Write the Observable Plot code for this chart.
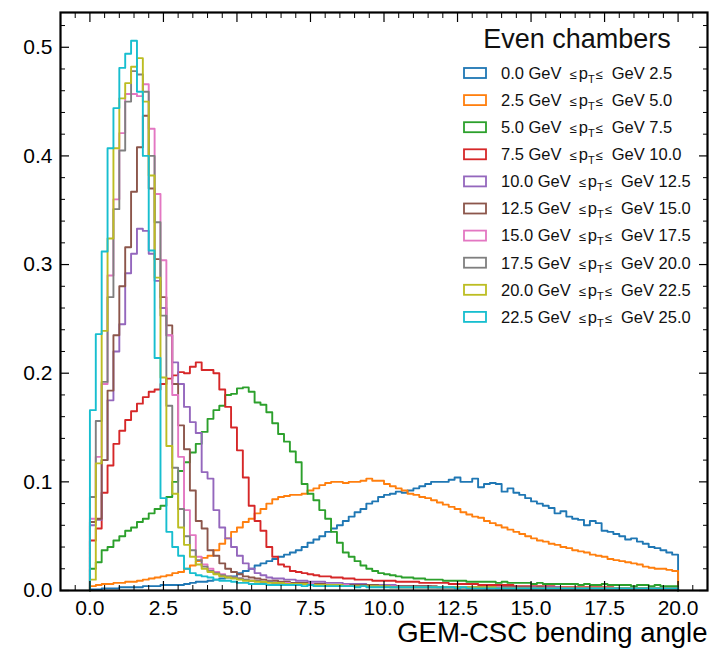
<!DOCTYPE html>
<html><head><meta charset="utf-8">
<script src="https://cdn.jsdelivr.net/npm/d3@7"></script>
<script src="https://cdn.jsdelivr.net/npm/@observablehq/plot@0.6"></script>
<style>
body{margin:0;background:#fff;}
#wrap{position:relative;width:712px;height:648px;}
</style></head><body><div id="wrap"></div>
<script>
// ---------- data (normalised histogram heights, 100 bins of width 0.2 from 0 to 20) ----------
const binWidth = 0.2;
const nBins = 100;
const xMax = 20;

const ptLow  = ["0.0","2.5","5.0","7.5","10.0","12.5","15.0","17.5","20.0","22.5"];
const ptHigh = ["2.5","5.0","7.5","10.0","12.5","15.0","17.5","20.0","22.5","25.0"];
const colors = ["#1f77b4","#ff7f0e","#2ca02c","#d62728","#9467bd","#8c564b","#e377c2","#7f7f7f","#bcbd22","#17becf"];

const h0_25 = [0.001,0.001,0.002,0.002,0.002,0.003,0.003,0.003,0.003,0.004,0.004,0.004,0.005,0.005,0.005,
0.005,0.006,0.007,0.008,0.008,0.009,0.010,0.011,0.012,0.013,
0.016,0.018,0.020,0.023,0.025,0.027,0.029,0.031,0.033,0.035,
0.037,0.040,0.044,0.047,0.050,0.054,0.057,0.060,0.064,0.068,
0.072,0.075,0.080,0.082,0.086,0.088,0.089,0.091,0.090,0.092,
0.094,0.096,0.098,0.100,0.100,0.100,0.102,0.104,0.100,0.100,
0.103,0.095,0.098,0.099,0.098,0.091,0.094,0.090,0.088,0.085,
0.082,0.080,0.078,0.076,0.071,0.073,0.068,0.066,0.065,0.060,
0.064,0.062,0.055,0.054,0.052,0.050,0.047,0.048,0.045,0.043,
0.040,0.039,0.037,0.035,0.033];

const h25_50 = [0.004,0.005,0.006,0.006,0.007,0.007,0.008,0.008,0.009,0.010,0.011,0.012,0.013,0.014,0.016,
0.017,0.020,0.023,0.027,0.030,0.032,0.037,0.043,0.048,0.054,
0.058,0.063,0.066,0.071,0.075,0.080,0.084,0.086,0.087,0.088,
0.088,0.089,0.092,0.094,0.097,0.099,0.100,0.100,0.099,0.100,
0.100,0.101,0.103,0.101,0.101,0.098,0.096,0.094,0.092,0.089,
0.088,0.086,0.085,0.083,0.081,0.079,0.077,0.075,0.072,0.070,
0.068,0.067,0.064,0.062,0.060,0.058,0.056,0.054,0.052,0.050,
0.048,0.046,0.045,0.043,0.042,0.040,0.039,0.037,0.036,0.035,
0.033,0.032,0.031,0.029,0.028,0.027,0.026,0.025,0.024,0.022,
0.021,0.020,0.020,0.019,0.018];

const h50_75 = [0.020,0.026,0.037,0.040,0.046,0.050,0.055,0.058,0.063,0.066,
0.071,0.075,0.078,0.086,0.100,0.110,0.118,0.127,0.135,0.146,
0.158,0.166,0.170,0.180,0.181,0.186,0.187,0.183,0.173,0.171,
0.164,0.154,0.144,0.137,0.128,0.118,0.098,0.089,0.083,0.074,
0.066,0.054,0.044,0.035,0.031,0.027,0.023,0.020,0.018,0.016,
0.015,0.014,0.013,0.012,0.012,0.011,0.011,0.010,0.010,0.010,
0.009,0.009,0.009,0.009,0.008,0.008,0.008,0.008,0.008,0.007,
0.008,0.007,0.007,0.007,0.007,0.006,0.007,0.006,0.006,0.006,
0.006,0.006,0.006,0.005,0.006,0.005,0.005,0.006,0.005,0.005,
0.005,0.005,0.004,0.005,0.005,0.004,0.005,0.004,0.004,0.004];

const h75_100 = [0.046,0.057,0.090,0.115,0.135,0.147,0.157,0.165,0.172,0.178,
0.183,0.185,0.190,0.195,0.198,0.201,0.200,0.206,0.210,0.203,
0.203,0.200,0.185,0.169,0.150,0.129,0.104,0.078,0.064,0.055,
0.040,0.031,0.024,0.022,0.018,0.017,0.016,0.015,0.014,0.013,
0.013,0.012,0.012,0.011,0.011,0.010,0.010,0.010,0.009,0.009,
0.009,0.009,0.008,0.008,0.008,0.008,0.007,0.007,0.007,0.007,
0.007,0.006,0.006,0.006,0.006,0.006,0.005,0.005,0.005,0.005,
0.005,0.005,0.004,0.004,0.004,0.004,0.004,0.004,0.004,0.003,
0.003,0.003,0.003,0.003,0.003,0.003,0.003,0.003,0.003,0.002,
0.002,0.002,0.002,0.002,0.002,0.002,0.002,0.002,0.002,0.002];

const h100_125 = [0.060,0.065,0.120,0.175,0.220,0.245,0.292,0.310,0.333,0.331,
0.310,0.285,0.260,0.235,0.210,0.190,0.169,0.155,0.145,0.109,
0.103,0.074,0.058,0.048,0.040,0.032,0.025,0.020,0.016,0.014,
0.012,0.011,0.011,0.010,0.010,0.009,0.009,0.008,0.008,0.008,
0.007,0.007,0.007,0.006,0.006,0.006,0.006,0.005,0.005,0.005,
0.005,0.005,0.004,0.004,0.004,0.004,0.004,0.004,0.003,0.003,
0.003,0.003,0.003,0.003,0.003,0.003,0.003,0.003,0.003,0.003,
0.003,0.003,0.003,0.003,0.003,0.003,0.003,0.003,0.003,0.003,
0.002,0.002,0.002,0.002,0.002,0.002,0.002,0.002,0.002,0.002,
0.002,0.002,0.002,0.002,0.002,0.002,0.002,0.002,0.002,0.002];

const h125_150 = [0.063,0.066,0.120,0.184,0.235,0.280,0.316,0.367,0.408,0.437,
0.370,0.305,0.270,0.244,0.190,0.152,0.130,0.092,0.064,0.057,
0.037,0.032,0.025,0.020,0.017,0.015,0.013,0.012,0.011,0.010,
0.009,0.009,0.008,0.008,0.007,0.007,0.007,0.006,0.006,0.006,
0.005,0.005,0.005,0.005,0.005,0.005,0.005,0.005,0.005,0.004,
0.004,0.004,0.004,0.004,0.004,0.004,0.004,0.004,0.004,0.003,
0.003,0.003,0.003,0.003,0.003,0.003,0.003,0.003,0.003,0.003,
0.003,0.003,0.003,0.003,0.003,0.002,0.003,0.002,0.002,0.002,
0.002,0.002,0.002,0.002,0.002,0.002,0.002,0.002,0.002,0.002,
0.002,0.002,0.002,0.002,0.002,0.002,0.002,0.002,0.002,0.002];

const h150_175 = [0.066,0.123,0.190,0.290,0.360,0.421,0.457,0.457,0.455,0.466,
0.425,0.365,0.304,0.235,0.180,0.123,0.074,0.051,0.031,0.024,
0.020,0.017,0.015,0.013,0.012,0.011,0.010,0.009,0.009,0.008,
0.008,0.007,0.007,0.007,0.006,0.006,0.006,0.006,0.005,0.005,
0.005,0.005,0.005,0.005,0.004,0.004,0.004,0.004,0.004,0.004,
0.004,0.004,0.003,0.003,0.003,0.003,0.003,0.003,0.003,0.003,
0.003,0.003,0.003,0.003,0.003,0.003,0.003,0.003,0.002,0.003,
0.002,0.002,0.002,0.002,0.002,0.002,0.002,0.002,0.002,0.002,
0.002,0.002,0.002,0.002,0.002,0.002,0.002,0.002,0.002,0.002,
0.002,0.002,0.002,0.002,0.002,0.002,0.002,0.002,0.002,0.002];

const h175_200 = [0.086,0.156,0.192,0.270,0.351,0.405,0.450,0.478,0.475,0.459,
0.400,0.339,0.253,0.170,0.113,0.075,0.050,0.037,0.028,0.022,
0.018,0.016,0.014,0.013,0.012,0.011,0.010,0.009,0.009,0.008,
0.008,0.007,0.007,0.006,0.006,0.006,0.006,0.005,0.005,0.005,
0.005,0.005,0.004,0.004,0.004,0.004,0.004,0.004,0.004,0.004,
0.004,0.003,0.003,0.003,0.003,0.003,0.003,0.003,0.003,0.003,
0.003,0.003,0.003,0.003,0.003,0.003,0.003,0.002,0.003,0.002,
0.002,0.002,0.002,0.002,0.002,0.002,0.002,0.002,0.002,0.002,
0.002,0.002,0.002,0.002,0.002,0.002,0.002,0.002,0.002,0.002,
0.002,0.002,0.002,0.002,0.002,0.002,0.002,0.002,0.002,0.002];

const h200_225 = [0.010,0.117,0.239,0.324,0.407,0.453,0.467,0.482,0.490,0.450,
0.382,0.288,0.196,0.133,0.089,0.058,0.042,0.031,0.024,0.020,
0.017,0.015,0.013,0.012,0.011,0.010,0.009,0.009,0.008,0.008,
0.007,0.007,0.007,0.006,0.006,0.006,0.006,0.005,0.005,0.005,
0.005,0.005,0.005,0.004,0.004,0.004,0.004,0.004,0.004,0.004,
0.004,0.003,0.003,0.003,0.003,0.003,0.003,0.003,0.003,0.003,
0.003,0.003,0.003,0.003,0.003,0.003,0.003,0.003,0.003,0.002,
0.002,0.002,0.002,0.002,0.002,0.002,0.002,0.002,0.002,0.002,
0.002,0.002,0.002,0.002,0.002,0.002,0.002,0.002,0.002,0.002,
0.002,0.002,0.002,0.002,0.002,0.002,0.002,0.002,0.002,0.002];

const h225_250 = [0.166,0.236,0.312,0.407,0.444,0.481,0.494,0.506,0.459,0.400,
0.313,0.214,0.085,0.054,0.040,0.032,0.020,0.016,0.014,0.013,
0.012,0.010,0.009,0.009,0.008,0.007,0.007,0.006,0.006,0.006,
0.005,0.005,0.005,0.005,0.005,0.005,0.004,0.005,0.004,0.004,
0.004,0.004,0.004,0.004,0.004,0.003,0.004,0.003,0.003,0.003,
0.003,0.003,0.003,0.003,0.003,0.003,0.003,0.003,0.003,0.003,
0.003,0.003,0.002,0.003,0.002,0.002,0.002,0.002,0.002,0.002,
0.002,0.002,0.002,0.002,0.002,0.002,0.002,0.002,0.002,0.002,
0.002,0.002,0.002,0.002,0.002,0.002,0.002,0.002,0.002,0.002,
0.002,0.002,0.002,0.002,0.002,0.002,0.002,0.002,0.002,0.002];

const seriesValues = [h0_25,h25_50,h50_75,h75_100,h100_125,h125_150,h150_175,h175_200,h200_225,h225_250];

const xTicks = [0,2.5,5,7.5,10,12.5,15,17.5,20];
const xTickLabels = ["0.0","2.5","5.0","7.5","10.0","12.5","15.0","17.5","20.0"];
const yTicks = [0,0.1,0.2,0.3,0.4,0.5];
const yTickLabels = ["0.0","0.1","0.2","0.3","0.4","0.5"];
const xLabel = "GEM-CSC bending angle";
const legendTitle = "Even chambers";

// ---------- build step outlines ----------
const rows = [];
seriesValues.forEach((vals, k) => {
  rows.push({x: 0, y: 0, s: k});
  vals.forEach((v, i) => rows.push({x: i * binWidth, y: v, s: k}));
  rows.push({x: xMax, y: vals[nBins - 1], s: k});
  rows.push({x: xMax, y: 0, s: k});
});

const xMinor = d3.range(-1, 21.001, 0.5).filter(v => !xTicks.includes(v));
const yMinor = d3.range(0, 0.531, 0.02).filter(v => !yTicks.some(t => Math.abs(t - v) < 1e-6));

const font = "'Liberation Sans', Arial, sans-serif";

const svg = Plot.plot({
  width: 712, height: 648,
  marginLeft: 60, marginRight: 5, marginTop: 12, marginBottom: 58,
  x: {domain: [-1, 21], label: null},
  y: {domain: [0, 0.532], label: null},
  color: {type: "identity"},
  style: {fontFamily: font, color: "black", background: "white", overflow: "visible"},
  marks: [
    Plot.line(rows, {x: "x", y: "y", z: "s", stroke: d => colors[d.s], curve: "step-after", strokeWidth: 1.9}),
    Plot.frame({stroke: "black", strokeWidth: 2.2}),
    Plot.axisX(xTicks, {anchor: "bottom", tickSize: -9, tickPadding: 19, tickFormat: d => xTickLabels[xTicks.indexOf(d)], fontSize: 21, label: null, strokeWidth: 1.2}),
    Plot.axisX(xMinor, {anchor: "bottom", tickSize: -5, tickFormat: () => "", label: null, strokeWidth: 1}),
    Plot.axisX(xTicks, {anchor: "top", tickSize: -9, tickFormat: () => "", label: null, strokeWidth: 1.2}),
    Plot.axisX(xMinor, {anchor: "top", tickSize: -5, tickFormat: () => "", label: null, strokeWidth: 1}),
    Plot.axisY(yTicks, {anchor: "left", tickSize: -9, tickPadding: 17, tickFormat: d => yTickLabels[yTicks.indexOf(d)], fontSize: 21, label: null, strokeWidth: 1.2}),
    Plot.axisY(yMinor, {anchor: "left", tickSize: -5, tickFormat: () => "", label: null, strokeWidth: 1}),
    Plot.axisY(yTicks, {anchor: "right", tickSize: -9, tickFormat: () => "", label: null, strokeWidth: 1.2}),
    Plot.axisY(yMinor, {anchor: "right", tickSize: -5, tickFormat: () => "", label: null, strokeWidth: 1}),
    Plot.text([xLabel], {text: d => d, frameAnchor: "bottom-right", textAnchor: "end", lineAnchor: "middle", dy: 43, fontSize: 27.5, fill: "black"})
  ]
});

document.getElementById("wrap").appendChild(svg);

// ---------- legend (inside the frame, top right) ----------
const g = d3.select(svg).append("g").attr("font-family", font).attr("fill", "#111");
g.append("text").attr("x", 577).attr("y", 48).attr("text-anchor", "middle")
  .attr("font-size", 27).text(legendTitle);
ptLow.forEach((lo, i) => {
  const cy = 73 + i * 27.1;
  g.append("rect").attr("x", 464).attr("y", cy - 5).attr("width", 22).attr("height", 10)
    .attr("fill", "none").attr("stroke", colors[i]).attr("stroke-width", 1.8);
  const t = g.append("text").attr("x", 501).attr("y", cy + 5.8).attr("font-size", 16.5)
    .attr("text-anchor", "start");
  t.append("tspan").text(lo + " GeV");
  t.append("tspan").attr("dx", 8).attr("font-size", 13).text("\u2264");
  t.append("tspan").attr("dx", 2).text("p");
  t.append("tspan").attr("font-size", 11).attr("dy", 4).text("T");
  t.append("tspan").attr("font-size", 13).attr("dy", -4).attr("dx", 1).text("\u2264");
  t.append("tspan").attr("dx", 9).text("GeV " + ptHigh[i]);
});
</script></body></html>
